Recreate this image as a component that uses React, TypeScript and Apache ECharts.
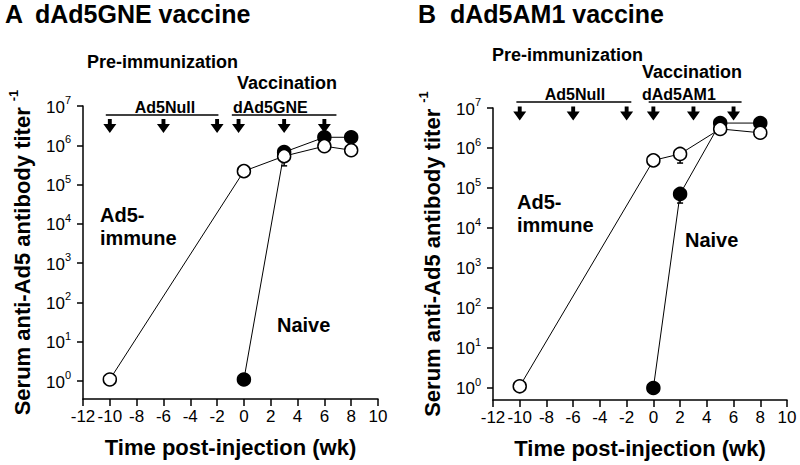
import React, { useEffect, useRef } from "react";
import * as echarts from "echarts";

const FONT = "'Liberation Sans', Arial, Helvetica, sans-serif";

// ---------- Panel A : dAd5GNE vaccine ----------
const weeksImmuneA = [-10, 0, 3, 6, 8];
const titerImmuneA = [1.1, 2.2e5, 5.3e5, 9.5e5, 7.5e5];
const weeksNaiveA = [0, 3, 6, 8];
const titerNaiveA = [1.1, 6.7e5, 1.6e6, 1.6e6];
const errWeeksA = [3];
const errMeanA = [5.3e5];
const errLowA = [3.0e5];
const injectionsA = [-10, -6, -2, -0.4, 3, 6];
const periodStartA = [-10.3, -0.9];
const periodEndA = [-1.9, 6.9];

// ---------- Panel B : dAd5AM1 vaccine ----------
const weeksImmuneB = [-10, 0, 2, 5, 8];
const titerImmuneB = [1.1, 4.9e5, 7.1e5, 3.0e6, 2.4e6];
const weeksNaiveB = [0, 2, 5, 8];
const titerNaiveB = [1.0, 7.1e4, 4.2e6, 4.2e6];
const errWeeksB = [2, 2];
const errMeanB = [7.1e5, 7.1e4];
const errLowB = [4.2e5, 4.2e4];
const injectionsB = [-10, -6, -2, 0, 3, 6];
const periodStartB = [-10.25, -0.35];
const periodEndB = [-1.65, 6.6];

// ---------- Axes ----------
const yTickValues = [1, 10, 100, 1e3, 1e4, 1e5, 1e6, 1e7];
const xTickValues = [-12, -10, -8, -6, -4, -2, 0, 2, 4, 6, 8, 10];
const xMin = -12;
const xMax = 10;
const xStep = 2;
const yMinA = 0.35;
const yMinB = 0.5;
const yMax = 1e7;

const ARROW = "path://M3.5,0 L6.5,0 L6.5,4 L10,4 L5,11 L0,4 L3.5,4 Z";

const zip = (xs: number[], ys: number[]) => xs.map((x, i) => [x, ys[i]]);

function makeX(gi: number) {
  return {
    type: "value",
    gridIndex: gi,
    min: xMin,
    max: xMax,
    interval: xStep,
    splitLine: { show: false },
    axisLine: { show: true, onZero: false, lineStyle: { color: "#000", width: 1.5 } },
    axisTick: { show: true, length: 7, lineStyle: { color: "#000", width: 1.5 } },
    axisLabel: { show: false },
    name: "Time post-injection (wk)",
    nameLocation: "middle",
    nameGap: 37,
    nameTextStyle: { color: "#000", fontSize: 22, fontWeight: "bold", fontFamily: FONT },
  };
}

function makeY(gi: number, min: number) {
  return {
    type: "log",
    logBase: 10,
    gridIndex: gi,
    min,
    max: yMax,
    splitLine: { show: false },
    minorTick: { show: false },
    axisLine: { show: true, onZero: false, lineStyle: { color: "#000", width: 1.5 } },
    axisTick: { show: true, length: 6, customValues: yTickValues, lineStyle: { color: "#000", width: 1.5 } },
    axisLabel: { show: false, customValues: yTickValues },
    name: "{t|Serum anti-Ad5 antibody titer }{s|-1}",
    nameLocation: "middle",
    nameRotate: 90,
    nameGap: 50,
    nameTextStyle: {
      rich: {
        t: { fontSize: 22, fontWeight: "bold", fontFamily: FONT, color: "#000", lineHeight: 26, verticalAlign: "bottom" },
        s: { fontSize: 13, fontWeight: "bold", fontFamily: FONT, color: "#000", lineHeight: 14, verticalAlign: "top" },
      },
    },
  };
}

function dataSeries(gi: number, xs: number[], ys: number[], filled: boolean) {
  return {
    type: "line",
    xAxisIndex: gi,
    yAxisIndex: gi,
    data: zip(xs, ys),
    symbol: "circle",
    symbolSize: 13,
    showSymbol: true,
    z: filled ? 3 : 4,
    itemStyle: { color: filled ? "#000" : "#fff", borderColor: "#000", borderWidth: 1.5, opacity: 1 },
    lineStyle: { color: "#000", width: 1 },
    silent: true,
  };
}

function errorSeries(gi: number, xs: number[], mean: number[], low: number[]) {
  return {
    type: "custom",
    xAxisIndex: gi,
    yAxisIndex: gi,
    z: 2,
    silent: true,
    data: xs.map((x, i) => [x, mean[i], low[i]]),
    encode: { x: 0, y: 1 },
    renderItem: (_p: any, api: any) => {
      const c = api.coord([api.value(0), api.value(1)]);
      const l = api.coord([api.value(0), api.value(2)]);
      return {
        type: "group",
        children: [
          { type: "line", shape: { x1: c[0], y1: c[1], x2: l[0], y2: l[1] }, style: { stroke: "#000", lineWidth: 1.5 } },
          { type: "line", shape: { x1: l[0] - 3, y1: l[1], x2: l[0] + 3, y2: l[1] }, style: { stroke: "#000", lineWidth: 1.5 } },
        ],
      };
    },
  };
}

function arrowSeries(gi: number, xs: number[], level: number) {
  return {
    type: "scatter",
    xAxisIndex: gi,
    yAxisIndex: gi,
    data: xs.map((x) => [x, level]),
    symbol: ARROW,
    symbolSize: [13, 14],
    itemStyle: { color: "#000", opacity: 1 },
    silent: true,
    z: 5,
  };
}

function periodSeries(gi: number, starts: number[], ends: number[], level: number) {
  return starts.map((s, i) => ({
    type: "line",
    xAxisIndex: gi,
    yAxisIndex: gi,
    data: [
      [s, level],
      [ends[i], level],
    ],
    symbol: "none",
    clip: false,
    lineStyle: { color: "#000", width: 1.5 },
    silent: true,
    z: 5,
  }));
}

function txt(text: string, x: number, y: number, size: number, align = "left", weight = "bold") {
  return {
    type: "text",
    x,
    y,
    silent: true,
    z: 10,
    style: {
      text,
      fill: "#000",
      fontSize: size,
      fontWeight: weight,
      fontFamily: FONT,
      align,
      textAlign: align,
      verticalAlign: "middle",
      textVerticalAlign: "middle",
    },
  };
}

const baseGraphic = [
  txt("A", 5, 14, 25),
  txt("dAd5GNE vaccine", 35, 14, 25),
  txt("Pre-immunization", 87, 62, 18),
  txt("Vaccination", 237, 83, 18),
  txt("Ad5Null", 165, 107, 16, "center"),
  txt("dAd5GNE", 233, 107, 16),
  txt("Ad5-", 100, 215, 20),
  txt("immune", 100, 238, 20),
  txt("Naive", 277, 325, 20),
  txt("B", 418, 14, 25),
  txt("dAd5AM1 vaccine", 450, 14, 25),
  txt("Pre-immunization", 492, 55, 18),
  txt("Vaccination", 642, 72, 18),
  txt("Ad5Null", 575, 94, 16, "center"),
  txt("dAd5AM1", 642, 94, 16),
  txt("Ad5-", 517, 202, 20),
  txt("immune", 517, 225, 20),
  txt("Naive", 685, 240, 20),
];

export default function App() {
  const ref = useRef<HTMLDivElement>(null);

  useEffect(() => {
    if (!ref.current) return;
    const chart = echarts.init(ref.current, undefined, { renderer: "svg" });
    const option: any = {
      animation: false,
      backgroundColor: "#fff",
      grid: [
        { left: 83, top: 106, width: 295, height: 293 },
        { left: 493, top: 108, width: 294, height: 292 },
      ],
      xAxis: [makeX(0), makeX(1)],
      yAxis: [makeY(0, yMinA), makeY(1, yMinB)],
      series: [
        dataSeries(0, weeksNaiveA, titerNaiveA, true),
        dataSeries(0, weeksImmuneA, titerImmuneA, false),
        errorSeries(0, errWeeksA, errMeanA, errLowA),
        arrowSeries(0, injectionsA, 3.1e6),
        ...periodSeries(0, periodStartA, periodEndA, 5.9e6),
        dataSeries(1, weeksNaiveB, titerNaiveB, true),
        dataSeries(1, weeksImmuneB, titerImmuneB, false),
        errorSeries(1, errWeeksB, errMeanB, errLowB),
        arrowSeries(1, injectionsB, 7.3e6),
        ...periodSeries(1, periodStartB, periodEndB, 1.41e7),
      ],
      graphic: baseGraphic,
    };
    chart.setOption(option);

    // tick labels placed through the axes' own scales
    const tickLabels: any[] = [];
    [0, 1].forEach((gi) => {
      const yMin = gi === 0 ? yMinA : yMinB;
      xTickValues.forEach((v) => {
        const p = chart.convertToPixel({ gridIndex: gi }, [v, yMin]) as number[];
        tickLabels.push(txt(String(v), p[0], p[1] + 17, 17, "center", "normal"));
      });
      yTickValues.forEach((v) => {
        const p = chart.convertToPixel({ gridIndex: gi }, [xMin, v]) as number[];
        const exp = String(Math.round(Math.log10(v)));
        tickLabels.push(txt("10", p[0] - 18, p[1] + 1, 17, "right", "normal"));
        tickLabels.push(txt(exp, p[0] - 18, p[1] - 6, 11, "left", "normal"));
      });
    });
    chart.setOption({ graphic: [...baseGraphic, ...tickLabels] });

    return () => chart.dispose();
  }, []);

  return (
    <div
      ref={ref}
      style={{ position: "absolute", left: 0, top: 0, width: 800, height: 465, background: "#fff" }}
    />
  );
}
